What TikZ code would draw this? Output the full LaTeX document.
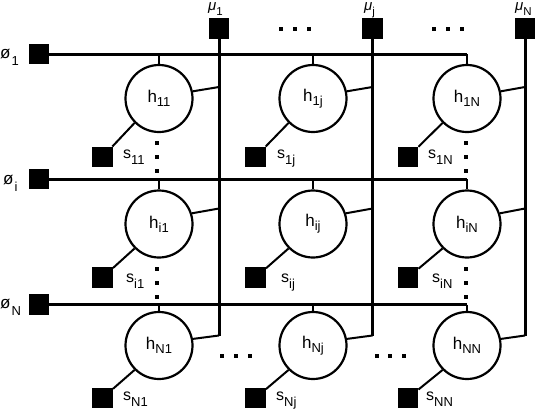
\documentclass[tikz,border=0pt]{standalone}
\usepackage{fontspec}
\setmainfont{Liberation Sans}
\newcommand{\hlab}[2]{{\fontsize{17}{17}\selectfont #1}\raisebox{-4pt}{\fontsize{13}{13}\selectfont #2}}
\newcommand{\slab}[1]{{\fontsize{16}{16}\selectfont s}\raisebox{-6pt}{\fontsize{13}{13}\selectfont #1}}
\newcommand{\philab}[1]{{\fontsize{17}{17}\selectfont ø}\kern1pt\raisebox{-7pt}{\fontsize{13}{13}\selectfont #1}}
\newcommand{\mulab}[1]{{\fontsize{15}{15}\selectfont\itshape μ}\raisebox{-5pt}{\fontsize{11.5}{11.5}\selectfont #1}}
\tikzset{
  hnode/.style={circle, draw, line width=2.2pt, minimum size=67pt, inner sep=0pt},
  sq/.style={fill=black, minimum size=20.5pt, inner sep=0pt},
  dotsq/.style={fill=black, minimum size=4pt, inner sep=0pt},
  bus/.style={line width=3pt},
  link/.style={line width=2pt},
  lab/.style={anchor=base west, inner sep=0pt},
}
\begin{document}
\begin{tikzpicture}[x=1pt, y=-1pt]
\useasboundingbox (0,0) rectangle (536,410);
% circles
\node[hnode] (h11) at (159,98.5) {\hlab{h}{11}};
\node[hnode] (h1j) at (313,98.5) {\hlab{h}{1j}};
\node[hnode] (h1N) at (467,98.5) {\hlab{h}{1N}};
\node[hnode] (hi1) at (159,224) {\hlab{h}{i1}};
\node[hnode] (hij) at (313,224) {\hlab{h}{ij}};
\node[hnode] (hiN) at (467,224) {\hlab{h}{iN}};
\node[hnode] (hN1) at (159,345.5) {\hlab{h}{N1}};
\node[hnode] (hNj) at (313,345.5) {\hlab{h}{Nj}};
\node[hnode] (hNN) at (467,345.5) {\hlab{h}{NN}};
% phi squares
\node[sq] (p1) at (39,54) {};
\node[sq] (pi) at (39,179) {};
\node[sq] (pN) at (39,304.5) {};
\node[lab] (lp1) at (0,58) {\philab{1}};
\node[lab] (lpi) at (3,184) {\philab{i}};
\node[lab] (lpN) at (0,308) {\philab{N}};
% mu squares
\node[sq] (m1) at (219,28.5) {};
\node[sq] (mj) at (372.5,28.5) {};
\node[sq] (mN) at (525,28.5) {};
\node[lab] (lm1) at (208,10.5) {\mulab{1}};
\node[lab] (lmj) at (364,10.5) {\mulab{j}};
\node[lab] (lmN) at (515,10.5) {\mulab{N}};
% s squares
\node[sq] (s11) at (102.5,157) {};
\node[sq] (s1j) at (255.5,157) {};
\node[sq] (s1N) at (408,157) {};
\node[sq] (si1) at (102.5,277.5) {};
\node[sq] (sij) at (255.5,277.5) {};
\node[sq] (siN) at (408,277.5) {};
\node[sq] (sN1) at (102.5,398) {};
\node[sq] (sNj) at (255.5,398) {};
\node[sq] (sNN) at (408,398) {};
\node[lab] (ls11) at (123,158) {\slab{11}};
\node[lab] (ls1j) at (277,158) {\slab{1j}};
\node[lab] (ls1N) at (428,158) {\slab{1N}};
\node[lab] (lsi1) at (126,282) {\slab{i1}};
\node[lab] (lsij) at (281,282) {\slab{ij}};
\node[lab] (lsiN) at (432,282) {\slab{iN}};
\node[lab] (lsN1) at (123,400) {\slab{N1}};
\node[lab] (lsNj) at (276,400) {\slab{Nj}};
\node[lab] (lsNN) at (426,400) {\slab{NN}};
% s links
\foreach \r in {1,i,N}{
  \foreach \c in {1,j,N}{
    \draw[link] (s\r\c) -- (h\r\c.225);
  }
}
% horizontal buses
\foreach \r in {1,i,N}{
  \draw[bus] (p\r.east) -- (h\r N.north |- p\r);
  \foreach \c in {1,j,N}{
    \draw[link] (h\r\c.north |- p\r) -- (h\r\c.north);
  }
}
% vertical buses
\coordinate (v11) at (219,87);
\coordinate (vi1) at (219,208.5);
\coordinate (vN1) at (219,335.5);
\coordinate (v1j) at (372.5,87);
\coordinate (vij) at (372.5,208.5);
\coordinate (vNj) at (372.5,335.5);
\coordinate (v1N) at (525,87);
\coordinate (viN) at (525,208.5);
\coordinate (vNN) at (525,335.5);
\foreach \c in {1,j,N}{
  \draw[bus, line join=miter] (m\c.south) -- (vN\c);
  \draw[link] (h1\c.12) -- (v1\c);
  \draw[link] (hi\c.18) -- (vi\c);
  \draw[link] (hN\c.11) -- (vN\c);
}
% dots
\foreach \x/\n in {281/a,295/b,309/c,434/d,448/e,462/f}
  \node[dotsq] (td\n) at (\x,29) {};
\foreach \x/\n in {222/a,236/b,250/c,377/d,390/e,404/f}
  \node[dotsq] (bd\n) at (\x,356) {};
\foreach \y/\n in {143/a,157/b,171/c,269/d,283/e,297/f}{
  \node[dotsq] (ld\n) at (157,\y) {};
  \node[dotsq] (rd\n) at (466,\y) {};
}
\end{tikzpicture}
\end{document}
